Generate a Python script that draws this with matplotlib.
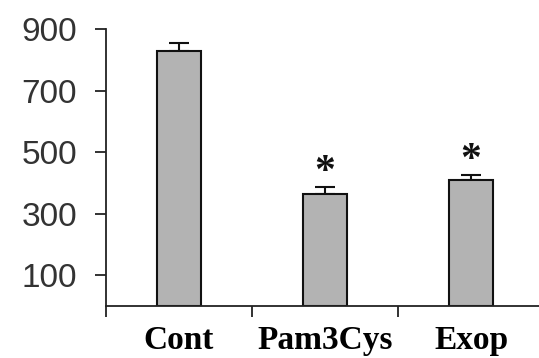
import matplotlib.pyplot as plt
import numpy as np

# values
groups = ['Cont', 'Pam3Cys', 'Exop']
means = [830, 363, 410]
errs = [25, 23, 17]
signif = [False, True, True]
yticks = [100, 300, 500, 700, 900]

fig = plt.figure(figsize=(5.39, 3.58), dpi=100)
ax = fig.add_axes([0.1967, 0.1453, 0.8126, 0.7737])

x = np.arange(len(groups))
ax.bar(x, means, width=0.295, color='#b3b3b3', edgecolor='#111111',
       linewidth=1.5, zorder=2)
ax.errorbar(x, means, yerr=[np.zeros(len(errs)), errs], fmt='none',
            ecolor='#111111', elinewidth=1.5, capsize=7, capthick=1.5, zorder=1)

for xi, m, e, s in zip(x, means, errs, signif):
    if s:
        ax.text(xi, m + e + 45, '*', ha='center', va='center',
                fontsize=30, fontweight='bold', family='Liberation Serif',
                color='#111111')

ax.set_xlim(-0.5, 2.5)
ax.set_ylim(0, 900)

ax.set_yticks(yticks)
ax.set_yticklabels([str(t) for t in yticks], fontsize=24,
                   family='Liberation Sans', color='#333333')
ax.tick_params(axis='y', length=8, width=1.3, pad=13, color='#222222')

# category ticks sit on the boundaries, labels in the middle
ax.set_xticks(x - 0.5)
ax.set_xticklabels([])
ax.set_xticks(x, minor=True)
ax.set_xticklabels(groups, minor=True, fontsize=24, fontweight='bold',
                   family='Liberation Serif')
ax.tick_params(axis='x', which='major', length=8, width=1.3, color='#222222')
ax.tick_params(axis='x', which='minor', length=0, pad=14)

for side in ['top', 'right']:
    ax.spines[side].set_visible(False)
for side in ['left', 'bottom']:
    ax.spines[side].set_linewidth(1.3)
    ax.spines[side].set_color('#222222')

fig.savefig('out.png', dpi=100)
